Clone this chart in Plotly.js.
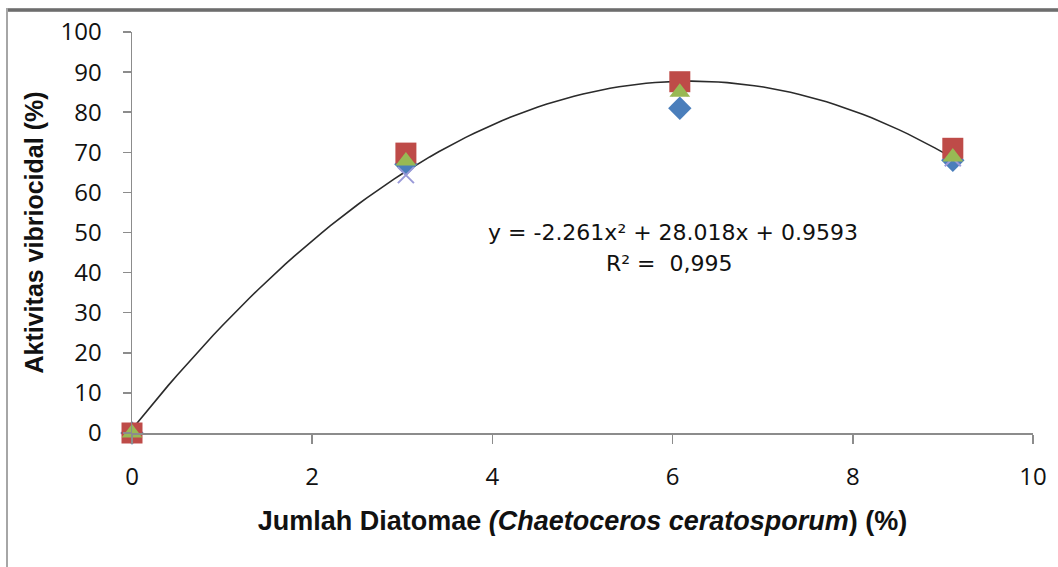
<!DOCTYPE html>
<html>
<head>
<meta charset="utf-8">
<script src="https://cdn.plot.ly/plotly-3.0.1.min.js"></script>
<style>
html,body{margin:0;padding:0;background:#fff;overflow:hidden;width:1058px;height:567px;}
#chart{position:absolute;left:0;top:0;width:1058px;height:567px;}
#topline{position:absolute;left:6px;top:8px;width:1052px;height:4px;background:linear-gradient(#9a9a9a,#5e5e5e 50%,#9a9a9a);z-index:50;}
#leftline{position:absolute;left:6px;top:8px;width:2px;height:559px;background:#a6a6a6;z-index:50;}
</style>
</head>
<body>
<div id="chart"></div>
<div id="topline"></div>
<div id="leftline"></div>
<script>
// Data
const xValues = [0, 3.04, 6.08, 9.11];
const seriesDiamond = [0, 67, 81, 68];
const seriesSquare = [0, 69.8, 87.6, 71];
const seriesTriangle = [0, 67.8, 85, 68.8];
const seriesCross = [0, 64.3, 86, 68.5];
// Polynomial trendline coefficients shown on the chart: y = a x^2 + b x + c
const trendCoef = [-2.261, 28.018, 0.9593];
const trendRange = [0, 9.11];
const xTicks = [0, 2, 4, 6, 8, 10];
const yTicks = [0, 10, 20, 30, 40, 50, 60, 70, 80, 90, 100];

const tx = [], ty = [];
for (let i = 0; i <= 91; i++) {
  const x = trendRange[0] + (trendRange[1] - trendRange[0]) * i / 91;
  tx.push(x);
  ty.push(trendCoef[0] * x * x + trendCoef[1] * x + trendCoef[2]);
}

const traces = [
  {x: tx, y: ty, mode: 'lines', line: {color: '#2b2b2b', width: 1.6}, hoverinfo: 'skip'},
  {x: xValues, y: seriesDiamond, mode: 'markers', cliponaxis: false, marker: {symbol: 'diamond', size: 18, color: '#4A7EBB'}},
  {x: xValues, y: seriesCross, mode: 'markers', cliponaxis: false, marker: {symbol: 'x-thin', size: 16, line: {color: '#9A9AD8', width: 2}}},
  {x: xValues, y: seriesSquare, mode: 'markers', cliponaxis: false, marker: {symbol: 'square', size: 21, color: '#BE4B48'}},
  {x: xValues, y: seriesTriangle, mode: 'markers', cliponaxis: false, marker: {symbol: 'triangle-up', size: 18, color: '#98B954'}}
];

const tickFont = {family: 'Open Sans, Noto Sans, sans-serif', size: 24, color: '#111'};
const eqFont = {family: 'DejaVu Sans, sans-serif', size: 22, color: '#111'};
const layout = {
  width: 1058, height: 567,
  margin: {l: 132, r: 25, t: 32, b: 134},
  paper_bgcolor: '#fff', plot_bgcolor: '#fff',
  showlegend: false,
  xaxis: {
    range: [0, 10], tickvals: xTicks, ticktext: xTicks.map(String),
    showgrid: false, zeroline: false, showline: true, linecolor: '#8c8c8c', linewidth: 1.5,
    ticks: 'outside', ticklen: 9, tickcolor: '#8c8c8c', tickwidth: 1.5,
    ticklabelstandoff: 13,
    tickfont: tickFont,
    title: {text: '<b>Jumlah Diatomae <i>(Chaetoceros ceratosporum</i>) (%)</b>', font: {family: 'Liberation Sans, Arial, sans-serif', size: 27, color: '#111'}, standoff: 20}
  },
  yaxis: {
    range: [0, 100], tickvals: yTicks, ticktext: yTicks.map(String),
    showgrid: false, zeroline: false, showline: true, linecolor: '#8c8c8c', linewidth: 1.5,
    ticks: 'outside', ticklen: 8, tickcolor: '#8c8c8c', tickwidth: 1.5,
    ticklabelstandoff: 16,
    tickfont: tickFont,
    title: {text: '<b>Aktivitas vibriocidal (%)</b>', font: {family: 'Liberation Sans, Arial, sans-serif', size: 25, color: '#111'}, standoff: 10}
  },
  annotations: [
    {xref: 'paper', yref: 'paper', x: 0.6, y: 0.501, xanchor: 'center', yanchor: 'middle', showarrow: false,
     text: 'y = -2.261x² + 28.018x + 0.9593', font: eqFont},
    {xref: 'paper', yref: 'paper', x: 0.597, y: 0.422, xanchor: 'center', yanchor: 'middle', showarrow: false,
     text: 'R² =&nbsp; 0,995', font: eqFont}
  ]
};

Plotly.newPlot('chart', traces, layout, {displayModeBar: false, staticPlot: true});
</script>
</body>
</html>
